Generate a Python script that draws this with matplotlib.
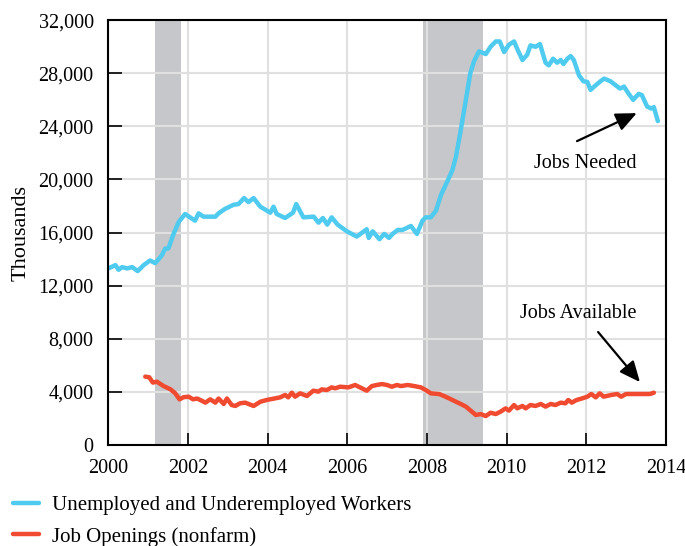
import matplotlib
matplotlib.use("Agg")
import matplotlib.pyplot as plt

matplotlib.rc("font", family="Liberation Serif", size=14)

# Unemployed and underemployed workers (thousands)
need_years = [2000.0, 2000.18, 2000.26, 2000.35, 2000.47, 2000.6, 2000.74, 2000.89, 2001.05,
              2001.18, 2001.35, 2001.43, 2001.51, 2001.64, 2001.77, 2001.93, 2002.18, 2002.27,
              2002.39, 2002.69, 2002.77, 2002.94, 2003.15, 2003.27, 2003.41, 2003.52, 2003.65,
              2003.82, 2004.07, 2004.15, 2004.23, 2004.44, 2004.64, 2004.72, 2004.9, 2005.16,
              2005.28, 2005.39, 2005.5, 2005.61, 2005.76, 2005.99, 2006.24, 2006.49, 2006.54,
              2006.64, 2006.81, 2006.93, 2007.05, 2007.14, 2007.27, 2007.39, 2007.6, 2007.75,
              2007.89, 2007.97, 2008.1, 2008.23, 2008.35, 2008.52, 2008.64, 2008.73, 2008.85,
              2008.98, 2009.09, 2009.19, 2009.31, 2009.48, 2009.6, 2009.73, 2009.83, 2009.94,
              2010.06, 2010.19, 2010.29, 2010.4, 2010.52, 2010.6, 2010.73, 2010.84, 2010.98,
              2011.06, 2011.17, 2011.27, 2011.36, 2011.43, 2011.53, 2011.61, 2011.69, 2011.82,
              2011.93, 2012.03, 2012.11, 2012.24, 2012.36, 2012.45, 2012.61, 2012.74, 2012.85,
              2012.95, 2013.07, 2013.18, 2013.32, 2013.4, 2013.53, 2013.63, 2013.7, 2013.8]
need_vals = [13300, 13550, 13200, 13400, 13300, 13400, 13100, 13550, 13900,
             13700, 14300, 14800, 14800, 15900, 16800, 17400, 16900, 17450,
             17200, 17200, 17450, 17800, 18100, 18150, 18600, 18300, 18600,
             17950, 17500, 17950, 17400, 17100, 17500, 18150, 17150, 17200,
             16750, 17100, 16600, 17150, 16600, 16100, 15700, 16250, 15600,
             16100, 15500, 15900, 15600, 15900, 16200, 16200, 16500, 15900,
             16900, 17150, 17150, 17650, 18800, 19900, 20700, 21700, 23700,
             26000, 28000, 28950, 29650, 29450, 30000, 30400, 30400, 29600,
             30150, 30400, 29700, 29000, 29400, 30100, 30000, 30200, 28800,
             28600, 29100, 28800, 29000, 28700, 29100, 29300, 29000, 27850,
             27400, 27350, 26750, 27100, 27400, 27600, 27400, 27100, 26850,
             27000, 26450, 26000, 26450, 26350, 25500, 25350, 25450, 24400]

# Job openings, nonfarm (thousands)
open_years = [2000.93, 2001.03, 2001.12, 2001.22, 2001.39, 2001.56, 2001.68, 2001.79, 2001.89,
              2002.02, 2002.13, 2002.23, 2002.31, 2002.44, 2002.56, 2002.69, 2002.77, 2002.9,
              2002.98, 2003.1, 2003.19, 2003.31, 2003.44, 2003.65, 2003.82, 2003.98, 2004.15,
              2004.32, 2004.44, 2004.52, 2004.61, 2004.69, 2004.82, 2004.99, 2005.15, 2005.28,
              2005.36, 2005.49, 2005.61, 2005.7, 2005.82, 2006.03, 2006.2, 2006.32, 2006.49,
              2006.62, 2006.74, 2006.87, 2007.0, 2007.12, 2007.25, 2007.35, 2007.52, 2007.68,
              2007.85, 2007.97, 2008.1, 2008.31, 2008.43, 2008.56, 2008.73, 2008.85, 2008.98,
              2009.1, 2009.23, 2009.35, 2009.48, 2009.6, 2009.73, 2009.85, 2009.98, 2010.06,
              2010.19, 2010.27, 2010.4, 2010.48, 2010.6, 2010.73, 2010.86, 2010.98, 2011.11,
              2011.23, 2011.36, 2011.48, 2011.55, 2011.64, 2011.76, 2011.9, 2012.03, 2012.13,
              2012.24, 2012.34, 2012.44, 2012.63, 2012.78, 2012.88, 2013.0, 2013.2, 2013.45,
              2013.6, 2013.7]
open_vals = [5150, 5100, 4700, 4770, 4440, 4200, 3900, 3440, 3600,
             3640, 3440, 3500, 3390, 3190, 3440, 3190, 3500, 3090,
             3500, 3010, 2940, 3140, 3190, 2940, 3260, 3390, 3490,
             3590, 3770, 3590, 3940, 3640, 3890, 3690, 4090, 4020,
             4190, 4140, 4340, 4270, 4390, 4340, 4520, 4340, 4090,
             4440, 4520, 4590, 4520, 4390, 4520, 4440, 4520, 4440,
             4340, 4140, 3890, 3840, 3690, 3510, 3260, 3090, 2890,
             2590, 2260, 2330, 2180, 2430, 2330, 2510, 2760, 2590,
             3010, 2760, 2940, 2760, 3010, 2940, 3090, 2890, 3090,
             3010, 3190, 3140, 3390, 3190, 3390, 3510, 3640, 3840,
             3590, 3890, 3640, 3770, 3840, 3640, 3840, 3840, 3840,
             3840, 3940]

recessions = [(2001.17, 2001.83), (2007.9, 2009.4)]
x_ticks = list(range(2000, 2015, 2))
y_ticks = list(range(0, 32001, 4000))

blue = "#4ECBEF"
red = "#F04A30"

fig = plt.figure(figsize=(6.85, 5.46), dpi=100)
ax = fig.add_axes([0.158, 0.185, 0.814, 0.778])

for start, end in recessions:
    ax.axvspan(start, end, color="#C6C7CA", lw=0, zorder=1)

ax.plot(need_years, need_vals, color=blue, lw=3.2, solid_joinstyle="round",
        solid_capstyle="round", zorder=3, label="Unemployed and Underemployed Workers")
ax.plot(open_years, open_vals, color=red, lw=3.2, solid_joinstyle="round",
        solid_capstyle="round", zorder=3, label="Job Openings (nonfarm)")

ax.set_xlim(2000, 2014)
ax.set_ylim(0, 32000)
ax.set_xticks(x_ticks)
ax.set_yticks(y_ticks)
ax.set_yticklabels([f"{v:,}" for v in y_ticks])
ax.set_axisbelow(False)
ax.grid(True, color="#E0E0E0", lw=1.5)
ax.tick_params(direction="in", width=1.2, colors="black", labelsize=14.5)
ax.tick_params(axis="x", pad=10, length=9)
ax.tick_params(axis="y", pad=10.5, length=10)
for s in ax.spines.values():
    s.set_linewidth(1.5)
    s.set_zorder(4)
ax.set_ylabel("Thousands", fontsize=16)
ax.yaxis.set_label_coords(-0.14, 0.5)

# arrows and labels
arrow = dict(arrowstyle="-|>,head_length=0.9,head_width=0.4", color="black",
             lw=1.6, shrinkA=0, shrinkB=0)
ax.annotate("", xy=(2013.27, 25000), xytext=(2011.77, 22890), arrowprops=arrow)
ax.text(2011.97, 21240, "Jobs Needed", ha="center", va="center", fontsize=14.5)
ax.annotate("", xy=(2013.35, 4740), xytext=(2012.3, 8510), arrowprops=arrow)
ax.text(2011.8, 9940, "Jobs Available", ha="center", va="center", fontsize=14.5)

fig.legend(loc="upper left", bbox_to_anchor=(0.019, 0.092), frameon=False, fontsize=15,
           handlelength=1.25, handletextpad=0.6, labelspacing=0.55,
           borderpad=0, borderaxespad=0)

plt.savefig("out.png", dpi=100)
